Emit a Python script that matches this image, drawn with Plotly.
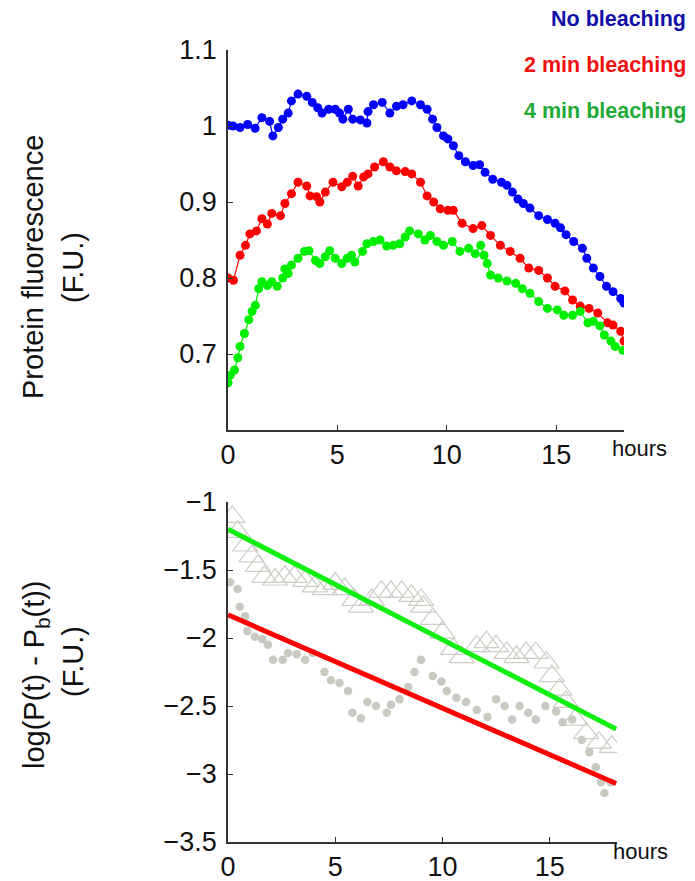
import plotly.graph_objects as go

# ---------------- data: top panel (protein fluorescence, F.U.) ----------------
blue_t = [0, 0.23, 0.55, 0.9, 1.24, 1.55, 1.9, 2.05, 2.3, 2.5, 2.75, 2.9, 3.2, 3.6, 3.85, 4.1, 4.3, 4.6, 4.9,
          5.1, 5.25, 5.5, 5.7, 6.05, 6.35, 6.4, 6.65, 7.05, 7.4, 7.7, 8.0, 8.4, 8.8, 9.1, 9.35, 9.55, 9.85,
          10.05, 10.3, 10.55, 10.85, 11.2, 11.5, 11.75, 12.1, 12.5, 12.75, 13.0, 13.25, 13.5, 13.8, 14.2,
          14.6, 14.95, 15.2, 15.45, 15.8, 16.2, 16.4, 16.7, 17.0, 17.3, 17.6, 17.95, 18.1]
blue_v = [1.001, 1.0, 0.998, 1.002, 0.997, 1.011, 1.006, 0.987, 0.998, 1.009, 1.017, 1.033, 1.042, 1.039, 1.031,
          1.024, 1.017, 1.022, 1.022, 1.017, 1.009, 1.022, 1.009, 1.008, 1.004, 1.019, 1.028, 1.031, 1.017,
          1.026, 1.028, 1.033, 1.028, 1.022, 1.009, 0.998, 0.987, 0.983, 0.974, 0.961, 0.953, 0.948, 0.949,
          0.939, 0.930, 0.926, 0.922, 0.913, 0.904, 0.898, 0.892, 0.882, 0.877, 0.872, 0.866, 0.857, 0.848,
          0.839, 0.826, 0.813, 0.802, 0.789, 0.782, 0.773, 0.767]

red_t = [0, 0.25, 0.55, 0.8, 1.0, 1.3, 1.55, 1.8, 2.0, 2.4, 2.6, 2.9, 3.2, 3.6, 3.75, 4.05, 4.2, 4.45, 4.8, 5.2,
         5.45, 5.7, 5.95, 6.2, 6.4, 6.7, 7.1, 7.4, 7.7, 8.1, 8.4, 8.8, 9.1, 9.4, 9.7, 10.05, 10.3, 10.7, 11.2,
         11.6, 12.0, 12.45, 12.9, 13.35, 13.75, 14.2, 14.6, 14.95, 15.4, 15.75, 16.1, 16.5, 16.9, 17.35, 17.6,
         17.95, 18.1]
red_v = [0.800, 0.797, 0.830, 0.843, 0.858, 0.862, 0.878, 0.871, 0.885, 0.882, 0.898, 0.911, 0.926, 0.921,
         0.908, 0.907, 0.900, 0.913, 0.926, 0.920, 0.926, 0.934, 0.921, 0.933, 0.937, 0.946, 0.953, 0.946,
         0.941, 0.940, 0.937, 0.926, 0.908, 0.900, 0.891, 0.889, 0.889, 0.872, 0.865, 0.869, 0.856, 0.843,
         0.835, 0.826, 0.813, 0.810, 0.800, 0.789, 0.783, 0.771, 0.763, 0.760, 0.754, 0.741, 0.738, 0.730,
         0.717]

green_t = [0, 0.1, 0.3, 0.45, 0.55, 0.75, 0.95, 1.1, 1.25, 1.4, 1.55, 1.8, 2.0, 2.25, 2.5, 2.6, 2.75, 2.9, 3.2,
           3.5, 3.7, 4.0, 4.2, 4.45, 4.65, 4.9, 5.2, 5.45, 5.65, 5.8, 6.15, 6.35, 6.65, 6.95, 7.25, 7.55, 7.85,
           8.1, 8.3, 8.7, 9.0, 9.25, 9.55, 9.85, 10.25, 10.6, 11.0, 11.3, 11.55, 11.7, 11.85, 12.0, 12.35,
           12.75, 13.15, 13.45, 13.8, 14.2, 14.6, 15.05, 15.35, 15.75, 16.1, 16.45, 16.7, 17.0, 17.2, 17.5,
           17.7, 18.05]
green_v = [0.662, 0.672, 0.679, 0.695, 0.710, 0.727, 0.745, 0.756, 0.764, 0.786, 0.795, 0.790, 0.795, 0.789,
           0.800, 0.812, 0.806, 0.817, 0.826, 0.835, 0.836, 0.823, 0.819, 0.828, 0.836, 0.826, 0.819, 0.826,
           0.830, 0.821, 0.835, 0.845, 0.848, 0.850, 0.842, 0.843, 0.845, 0.854, 0.862, 0.858, 0.850, 0.856,
           0.848, 0.843, 0.848, 0.835, 0.839, 0.832, 0.843, 0.830, 0.819, 0.804, 0.800, 0.796, 0.793, 0.786,
           0.780, 0.769, 0.760, 0.758, 0.751, 0.751, 0.756, 0.741, 0.743, 0.737, 0.725, 0.717, 0.710, 0.705]

# ---------------- data: bottom panel (log(P(t) - Pb(t))) ----------------
circ_t = [0.1, 0.45, 0.55, 0.8, 0.9, 1.25, 1.6, 1.86, 2.1, 2.55, 2.8, 3.2, 3.6, 3.95, 4.5, 4.8, 5.2, 5.6, 5.8,
          6.2, 6.5, 6.9, 7.4, 7.6, 8.0, 8.4, 8.7, 9.0, 9.55, 9.95, 10.2, 10.65, 11.1, 11.6, 12.1, 12.5, 12.9,
          13.25, 13.6, 14.0, 14.35, 14.8, 15.3, 15.6, 16.05, 16.5, 16.85, 17.15, 17.4, 17.55, 17.85]
circ_v = [-1.59, -1.64, -1.77, -1.84, -1.95, -1.99, -2.01, -2.05, -2.16, -2.16, -2.11, -2.12, -2.16, -2.11,
          -2.25, -2.31, -2.33, -2.39, -2.55, -2.59, -2.47, -2.50, -2.55, -2.49, -2.45, -2.36, -2.25, -2.16,
          -2.28, -2.32, -2.39, -2.44, -2.47, -2.53, -2.58, -2.45, -2.50, -2.60, -2.50, -2.55, -2.60, -2.50,
          -2.54, -2.62, -2.60, -2.75, -2.84, -2.95, -3.06, -3.14, -3.06]

tri_t = [0.2, 0.45, 0.8, 1.1, 1.4, 1.7, 2.2, 2.65, 3.1, 3.6, 4.05, 4.5, 5.0, 5.45, 5.9, 6.2, 6.7, 7.15, 7.6,
         8.1, 8.55, 9.0, 9.1, 9.55, 10.0, 10.5, 10.9, 11.6, 12.05, 12.5, 13.0, 13.45, 13.9, 14.35, 14.85,
         15.1, 15.45, 15.75, 16.2, 16.7, 17.3, 17.9]
tri_v = [-1.11, -1.22, -1.32, -1.40, -1.47, -1.55, -1.57, -1.55, -1.55, -1.58, -1.62, -1.64, -1.60, -1.64,
         -1.72, -1.77, -1.72, -1.66, -1.66, -1.66, -1.69, -1.72, -1.77, -1.86, -1.96, -2.08, -2.14, -2.06,
         -2.03, -2.06, -2.11, -2.14, -2.11, -2.11, -2.18, -2.28, -2.38, -2.47, -2.60, -2.70, -2.77, -2.80]

fit_t = [0, 18.1]
green_fit = [-1.20, -2.67]
red_fit = [-1.83, -3.07]

x_ticks = [0, 5, 10, 15]
top_y_ticks = [0.7, 0.8, 0.9, 1.0, 1.1]
top_y_labels = ["0.7", "0.8", "0.9", "1", "1.1"]
bot_y_ticks = [-3.5, -3, -2.5, -2, -1.5, -1]
bot_y_labels = ["\u22123.5", "\u22123", "\u22122.5", "\u22122", "\u22121.5", "\u22121"]

FONT = "Liberation Sans, Arial, sans-serif"
W, H = 695, 881
OFF = 8  # page body margin offset compensation (px)


def px(x):
    return (x - OFF) / W


def py(y):
    return 1 - (y - OFF) / H


fig = go.Figure()


def dots(t, v, color):
    return go.Scatter(x=t, y=v, mode="lines+markers", line=dict(color=color, width=1.2),
                      marker=dict(color=color, size=9, line=dict(width=0)), showlegend=False,
                      xaxis="x", yaxis="y")


fig.add_trace(dots(blue_t, blue_v, "#0000ff"))
fig.add_trace(dots(red_t, red_v, "#ff0000"))
fig.add_trace(dots(green_t, green_v, "#00ee00"))

fig.add_trace(go.Scatter(x=tri_t, y=tri_v, mode="markers", xaxis="x2", yaxis="y2", showlegend=False,
                         marker=dict(symbol="triangle-up-open", size=22, color="#cdcdc6",
                                     line=dict(width=1.2, color="#cdcdc6"))))
fig.add_trace(go.Scatter(x=circ_t, y=circ_v, mode="markers", xaxis="x2", yaxis="y2", showlegend=False,
                         marker=dict(symbol="circle", size=8.5, color="#c9c9c2")))
fig.add_trace(go.Scatter(x=fit_t, y=green_fit, mode="lines", xaxis="x2", yaxis="y2", showlegend=False,
                         line=dict(color="#11ee11", width=5)))
fig.add_trace(go.Scatter(x=fit_t, y=red_fit, mode="lines", xaxis="x2", yaxis="y2", showlegend=False,
                         line=dict(color="#ff0000", width=5)))

axis_common = dict(showline=True, linecolor="#333333", linewidth=1.5, ticks="inside", ticklen=5,
                   tickcolor="#333333", showgrid=False, zeroline=False, automargin=False,
                   tickfont=dict(family=FONT, size=27, color="#111111"))

fig.update_layout(
    width=W, height=H, margin=dict(l=0, r=0, t=0, b=0, pad=0, autoexpand=False),
    autosize=False,
    paper_bgcolor="white", plot_bgcolor="white",
    xaxis=dict(domain=[px(228), px(624)], range=[0, 18.1], tickvals=x_ticks, anchor="y", **axis_common),
    yaxis=dict(domain=[py(430), py(50)], range=[0.6, 1.1], tickvals=top_y_ticks,
               ticktext=top_y_labels, anchor="x", ticklabelstandoff=4, **axis_common),
    xaxis2=dict(domain=[px(228), px(617)], range=[0, 18.14], tickvals=x_ticks, anchor="y2", **axis_common),
    yaxis2=dict(domain=[py(842), py(502)], range=[-3.5, -1], tickvals=bot_y_ticks,
                ticktext=bot_y_labels, anchor="x2", ticklabelstandoff=4, **axis_common),
)


def ann(text, x, y, size, color="#111111", angle=0, bold=False, xanchor="center"):
    fig.add_annotation(text=("<b>%s</b>" % text) if bold else text, x=px(x), y=py(y),
                       xref="paper", yref="paper", showarrow=False, textangle=angle,
                       xanchor=xanchor, yanchor="middle",
                       font=dict(family=FONT, size=size, color=color))


ann("hours", 639, 448, 22)
ann("hours", 640, 851, 22)
ann("Protein fluorescence", 33, 267, 29, angle=-90)
ann("(F.U.)", 73, 268, 29, angle=-90)
ann("log(P(t) - P<sub>b</sub>(t))", 36, 675, 29, angle=-90)
ann("(F.U.)", 73, 662, 29, angle=-90)
ann("No bleaching", 688, 19, 21.5, color="#1010a8", bold=True, xanchor="right")
ann("2 min bleaching", 688, 65, 21.5, color="#f01010", bold=True, xanchor="right")
ann("4 min bleaching", 688, 111, 21.5, color="#1faa35", bold=True, xanchor="right")

fig.write_html("out.html")
